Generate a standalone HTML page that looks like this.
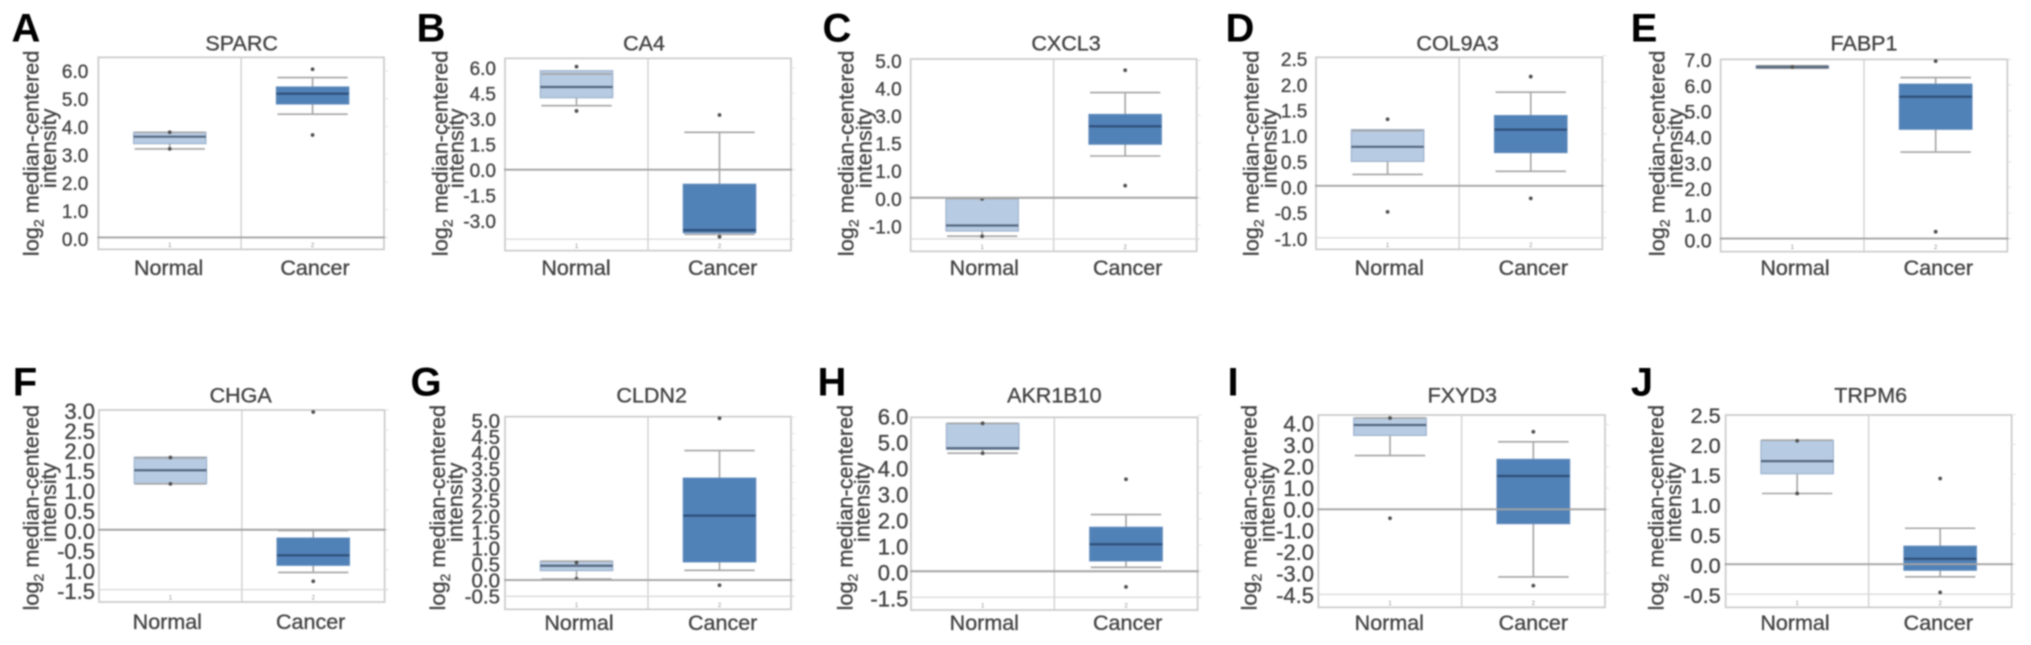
<!DOCTYPE html>
<html lang="en">
<head>
<meta charset="utf-8">
<title>Gene expression box plots</title>
<style>
html,body{margin:0;padding:0;background:#fff;}
#figure{display:block;width:2031px;height:645px;filter:blur(0.8px);font-family:"Liberation Sans",sans-serif;}
#figure text.soft{stroke:#444;stroke-width:0.35px;}
</style>
</head>
<body>
<svg id="figure" xmlns="http://www.w3.org/2000/svg" width="2031" height="645" viewBox="0 0 2031 645"></svg>
<script>
const genes = ['SPARC','CA4','CXCL3','COL9A3','FABP1','CHGA','CLDN2','AKR1B10','FXYD3','TRPM6'];
const panelLetters = ['A','B','C','D','E','F','G','H','I','J'];
const categories = ['Normal','Cancer'];
const categoryCodes = ['1','2'];

const tickValues = [
  [6,5,4,3,2,1,0],
  [6,4.5,3,1.5,0,-1.5,-3],
  [5,4,3,2,1,0,-1],
  [2.5,2,1.5,1,0.5,0,-0.5,-1],
  [7,6,5,4,3,2,1,0],
  [3,2.5,2,1.5,1,0.5,0,-0.5,-1,-1.5],
  [5,4.5,4,3.5,3,2.5,2,1.5,1,0.5,0,-0.5],
  [6,5,4,3,2,1,0,-1],
  [4,3,2,1,0,-1,-2,-3,-4],
  [2.5,2,1.5,1,0.5,0,-0.5]
];
const tickLabels = [
  ['6.0','5.0','4.0','3.0','2.0','1.0','0.0'],
  ['6.0','4.5','3.0','1.5','0.0','-1.5','-3.0'],
  ['5.0','4.0','3.0','1.5','1.0','0.0','-1.0'],
  ['2.5','2.0','1.5','1.0','0.5','0.0','-0.5','-1.0'],
  ['7.0','6.0','5.0','4.0','3.0','2.0','1.0','0.0'],
  ['3.0','2.5','2.0','1.5','1.0','0.5','0.0','-0.5','1.0','-1.5'],
  ['5.0','4.5','4.0','3.5','3.0','2.5','2.0','1.5','1.0','0.5','0.0','-0.5'],
  ['6.0','5.0','4.0','3.0','2.0','1.0','0.0','-1.5'],
  ['4.0','3.0','2.0','1.0','0.0','-1.0','-2.0','-3.0','-4.5'],
  ['2.5','2.0','1.5','1.0','0.5','0.0','-0.5']
];
const domainLow  = [-0.43,-4.77,-1.95,-1.22,-0.51,-1.81,-0.90,-1.49,-4.61,-0.72];
const domainHigh = [6.49,6.56,5.05,2.47,7.00,3.00,5.02,5.92,4.44,2.49];
const lowerGridValue = [null,-4.09,-1.5,-1.0,null,-1.5,-0.5,-1,-4,-0.5];

const normalQ1 = [3.38,4.24,-1.21,0.47,6.65,1.15,0.29,4.69,3.48,1.51];
const normalMedian = [3.63,4.87,-1.01,0.75,6.70,1.49,0.44,4.73,3.97,1.72];
const normalQ3 = [3.79,5.83,-0.02,1.08,6.75,1.82,0.58,5.69,4.30,2.07];
const normalWhiskerLow = [3.19,3.77,-1.40,0.22,6.65,1.15,0.03,4.54,2.53,1.18];
const normalWhiskerHigh = [3.79,5.64,-0.03,1.06,6.75,1.80,0.58,5.69,4.30,2.07];
const normalOutliers = [[3.79,3.19],[6.07,3.46],[-0.04,-1.40],[1.28,-0.50],[6.70],[1.81,1.15],[0.54,0.04],[5.69,4.54],[4.30,-0.42],[2.06,1.18]];

const cancerQ1 = [4.81,-3.71,1.95,0.64,4.27,-0.89,0.56,0.40,-0.67,-0.10];
const cancerMedian = [5.18,-3.56,2.60,1.08,5.54,-0.64,1.98,1.04,1.57,0.09];
const cancerQ3 = [5.42,-0.86,3.03,1.35,6.03,-0.21,3.13,1.69,2.35,0.30];
const cancerWhiskerLow = [4.44,-3.81,1.52,0.28,3.38,-1.07,0.30,0.15,-3.18,-0.21];
const cancerWhiskerHigh = [5.76,2.20,3.83,1.80,6.29,-0.02,3.98,2.18,3.18,0.60];
const cancerOutliers = [[6.06,3.69],[3.22,-3.95],[4.64,0.44],[2.10,-0.24],[6.93,0.27],[2.95,-1.29],[4.97,-0.16],[3.54,-0.60],[3.65,-3.59],[1.43,-0.47]];

/* Layout only, measured in 3x-crop units relative to each panel's crop origin */
const layout = [
 {ox:0,oy:0,L:295,R:1152,T:172,B:748,lz:718,lu:84.2,tr:265,tf:19,lx:115,ix:168,mid:460,imid:445,tx:725,ty:152,nx:506,cx:945,cy:825,ltx:26,lty:41.7},
 {ox:410,oy:0,L:285,R:1143,T:175,B:752,lz:511,lu:51,tr:258,tf:19,lx:112,ix:160,mid:460,imid:445,tx:702,ty:152,nx:498,cx:938,cy:825,ltx:431,lty:41.7},
 {ox:820,oy:0,L:272,R:1130,T:177,B:754,lz:597,lu:82.8,tr:245,tf:19,lx:100,ix:155,mid:460,imid:445,tx:738,ty:152,nx:493,cx:923,cy:825,ltx:837,lty:41.7},
 {ox:1230,oy:0,L:258,R:1117,T:172,B:748,lz:563,lu:154,tr:232,tf:19,lx:85,ix:140,mid:460,imid:445,tx:683,ty:152,nx:478,cx:910,cy:825,ltx:1240,lty:41.7},
 {ox:1620,oy:0,L:302,R:1162,T:178,B:755,lz:722,lu:77.4,tr:275,tf:19.5,lx:133,ix:187,mid:460,imid:445,tx:732,ty:152,nx:525,cx:955,cy:825,ltx:1644,lty:41.7},
 {ox:0,oy:325,L:297,R:1154,T:255,B:831,lz:618,lu:120,tr:285,tf:22,lx:115,ix:168,mid:548,imid:532,tx:722,ty:233,nx:502,cx:932,cy:912,ltx:25,lty:395.7},
 {ox:410,oy:325,L:285,R:1143,T:275,B:853,lz:765,lu:95.6,tr:270,tf:20.5,lx:105,ix:158,mid:548,imid:532,tx:725,ty:233,nx:507,cx:938,cy:915,ltx:426,lty:395.7},
 {ox:820,oy:325,L:273,R:1133,T:277,B:855,lz:743,lu:78,tr:265,tf:22,lx:97,ix:148,mid:548,imid:532,tx:703,ty:233,nx:493,cx:923,cy:915,ltx:832,lty:395.7},
 {ox:1230,oy:325,L:265,R:1125,T:270,B:847,lz:553,lu:64.2,tr:252,tf:22,lx:80,ix:133,mid:548,imid:532,tx:697,ty:233,nx:478,cx:910,cy:915,ltx:1233,lty:395.7},
 {ox:1620,oy:325,L:317,R:1175,T:270,B:847,lz:720,lu:180,tr:302,tf:21.7,lx:130,ix:183,mid:548,imid:532,tx:752,ty:233,nx:525,cx:955,cy:915,ltx:1642,lty:395.7}
];

const SVG_NS = 'http://www.w3.org/2000/svg';
const root = document.getElementById('figure');
const TEXT = '#444444';
const NORMAL_STYLE = {fill:'#b7cbe3',edge:'#9db2cd',median:'#55677f'};
const CANCER_STYLE = {fill:'#5081b7',edge:'#5f8abb',median:'#2f4f78'};

function mk(tag, attrs, parent, text) {
  const el = document.createElementNS(SVG_NS, tag);
  for (const k in attrs) el.setAttribute(k, attrs[k]);
  if (text !== undefined) el.textContent = text;
  parent.appendChild(el);
  return el;
}

function drawBox(g, stats, style, cx, width, yScale, key) {
  const half = width / 2;
  const stem = mk('line',{x1:cx,x2:cx,y1:yScale(stats.hi),y2:yScale(stats.lo),stroke:'#a4a4a4','stroke-width':1.6},g);
  
  
  const top = yScale(stats.q3), bottom = yScale(stats.q1);
  const box = mk('rect',{x:cx-half,y:top,width:width,height:Math.max(bottom-top,0.5),fill:style.fill,stroke:style.edge,'stroke-width':1.2},g);
  
  
  const capHigh = mk('line',{x1:cx-half+1,x2:cx+half-1,y1:yScale(stats.hi),y2:yScale(stats.hi),stroke:'#a4a4a4','stroke-width':1.6},g);
  
  
  const capLow = mk('line',{x1:cx-half+1,x2:cx+half-1,y1:yScale(stats.lo),y2:yScale(stats.lo),stroke:'#a4a4a4','stroke-width':1.6},g);
  
  
  const med = mk('line',{x1:cx-half,x2:cx+half,y1:yScale(stats.med),y2:yScale(stats.med),stroke:style.median,'stroke-width':2.2},g);
  
  
  stats.out.forEach(function (v) {
    const dot = mk('circle',{cx:cx,cy:yScale(v),r:1.9,fill:'#4f4f4f'},g);
    
    
  });
}

genes.forEach(function (gene, i) {
  const p = layout[i];
  const px = function (v) { return p.ox + v / 3; };
  const py = function (v) { return p.oy + v / 3; };
  const left = px(p.L), right = px(p.R), top = py(p.T), bottom = py(p.B);
  const lo = domainLow[i], hi = domainHigh[i];
  const yScale = function (v) { return bottom - (v - lo) / (hi - lo) * (bottom - top); };
  const xScale = function (c) { return left + (right - left) * (c + 0.5) / categories.length; };
  const labelAxis = function (v) { return py(p.lz - v * p.lu); };

  const g = mk('g',{},root);
  
  

  const letter = mk('text',{x:p.ltx,y:p.lty,'text-anchor':'middle','font-size':40,'font-weight':700,fill:'#000'},g,panelLetters[i]);
  
  

  const title = mk('text',{class:'soft',x:px(p.tx),y:py(p.ty),'text-anchor':'middle','font-size':21.5,fill:TEXT},g,gene);
  
  

  const frame = mk('rect',{x:left,y:top,width:right-left,height:bottom-top,fill:'#fff',stroke:'#cbcbcb','stroke-width':1.7},g);
  
  

  const divider = mk('line',{x1:(left+right)/2,x2:(left+right)/2,y1:top,y2:bottom,stroke:'#cdcdcd','stroke-width':1.3},g);
  
  

  tickValues[i].forEach(function (v, t) {
    const minor = mk('line',{x1:right,x2:right+4,y1:yScale(v),y2:yScale(v),stroke:'#e2e2e2','stroke-width':1},g);
    
    
    const label = mk('text',{class:'soft',x:px(p.tr),y:labelAxis(v)+p.tf*0.36,'text-anchor':'end','font-size':p.tf,fill:TEXT},g,tickLabels[i][t]);
    
    
  });

  if (lowerGridValue[i] !== null) {
    const lower = mk('line',{x1:left,x2:right+3,y1:yScale(lowerGridValue[i]),y2:yScale(lowerGridValue[i]),stroke:'#d8d8d8','stroke-width':1.3},g);
    
    
  }

  const title1 = mk('text',{class:'soft',transform:'translate('+px(p.lx)+' '+py(p.mid)+') rotate(-90)','text-anchor':'middle','font-size':21.7,fill:TEXT},g);
  
  
  mk('tspan',{},title1,'log');
  mk('tspan',{dy:5,'font-size':14},title1,'2');
  mk('tspan',{dy:-5},title1,' median-centered');
  const title2 = mk('text',{class:'soft',transform:'translate('+px(p.ix)+' '+py(p.imid)+') rotate(-90)','text-anchor':'middle','font-size':21.7,fill:TEXT},g,'intensity');
  
  

  const boxWidth = (right - left) * 0.253;
  drawBox(g,{q1:normalQ1[i],med:normalMedian[i],q3:normalQ3[i],lo:normalWhiskerLow[i],hi:normalWhiskerHigh[i],out:normalOutliers[i]},NORMAL_STYLE,xScale(0),boxWidth,yScale,'normal');
  drawBox(g,{q1:cancerQ1[i],med:cancerMedian[i],q3:cancerQ3[i],lo:cancerWhiskerLow[i],hi:cancerWhiskerHigh[i],out:cancerOutliers[i]},CANCER_STYLE,xScale(1),boxWidth,yScale,'cancer');

  const zero = mk('line',{x1:left-1,x2:right+1,y1:yScale(0),y2:yScale(0),stroke:'#a4a4a4','stroke-width':1.9},g);
  
  

  categories.forEach(function (cat, c) {
    const code = mk('text',{x:xScale(c),y:bottom-2.5,'text-anchor':'middle','font-size':6,fill:'#8a8a8a'},g,categoryCodes[c]);
    
    
    const label = mk('text',{class:'soft',x:px(c===0?p.nx:p.cx),y:py(p.cy),'text-anchor':'middle','font-size':21.5,fill:TEXT},g,cat);
    
    
  });
});
</script>
</body>
</html>
